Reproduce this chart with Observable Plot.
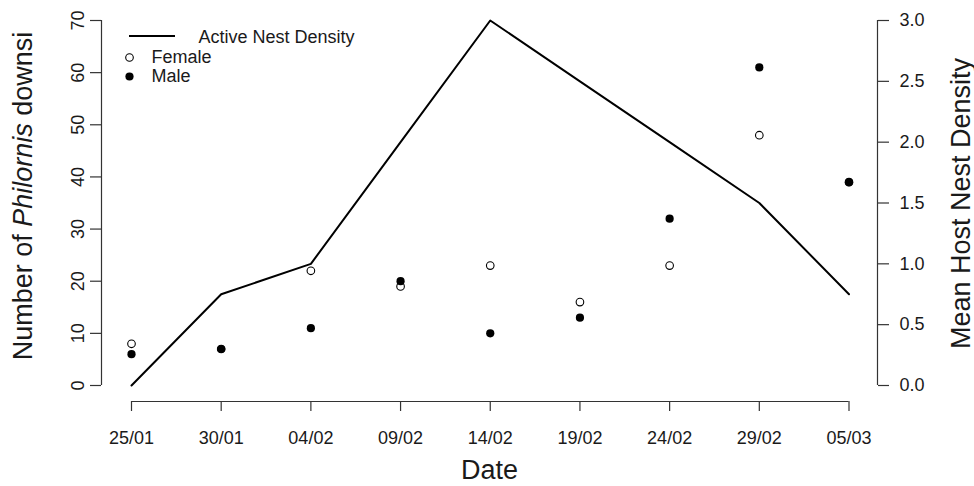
<!DOCTYPE html>
<html><head><meta charset="utf-8">
<script src="https://cdn.jsdelivr.net/npm/d3@7"></script>
<script src="https://cdn.jsdelivr.net/npm/@observablehq/plot@0.6"></script>
<style>
body{margin:0;background:#fff;}
svg{font-family:"Liberation Sans",Arial,sans-serif;}
</style>
</head><body><div id="chart"></div>
<script>
const dates = ["25/01","30/01","04/02","09/02","14/02","19/02","24/02","29/02","05/03"];
const days = [0,5,10,15,20,25,30,35,40];
const female = [8,7,22,19,23,16,23,48,39];
const male = [6,7,11,20,10,13,32,61,39];
const nestDensity = [0,0.75,1.0,2.0,3.0,2.5,2.0,1.5,0.75];
const leftTicks = [0,10,20,30,40,50,60,70];
const rightTicks = [0,0.5,1.0,1.5,2.0,2.5,3.0];
const k = 70/3; // right axis (0..3) mapped onto left axis (0..70)

const femaleData = days.map((d,i)=>({day:d, v:female[i]}));
const maleData = days.map((d,i)=>({day:d, v:male[i]}));
const lineData = days.map((d,i)=>({day:d, v:nestDensity[i]*k}));

const axisColor = "#333";
const textColor = "#1a1a1a";

function leftTitle(index, scales, values, dims) {
  const cy = (dims.marginTop + dims.height - dims.marginBottom)/2 - 7;
  const t = d3.create("svg:text")
    .attr("transform", `translate(${dims.marginLeft - 69},${cy}) rotate(-90)`)
    .attr("text-anchor","middle").attr("font-size",27).attr("fill",textColor);
  t.append("tspan").text("Number of ");
  t.append("tspan").attr("font-style","italic").text("Philornis");
  t.append("tspan").text(" downsi");
  return t.node();
}
function legendLine(index, scales, values, dims) {
  return d3.create("svg:line")
    .attr("x1", dims.marginLeft + 28).attr("x2", dims.marginLeft + 74)
    .attr("y1", dims.marginTop + 31).attr("y2", dims.marginTop + 31)
    .attr("stroke","black").attr("stroke-width",2).node();
}

const chart = Plot.plot({
  width: 974, height: 486,
  marginLeft: 101, marginRight: 97, marginTop: 5, marginBottom: 85,
  style: {background:"#fff", color:textColor, fontFamily:'"Liberation Sans",Arial,sans-serif'},
  x: {domain:[0,40], range:[131,848.5]},
  y: {domain:[0,70], range:[385,20]},
  marks: [
    // axis lines
    Plot.ruleX([days[0]], {y1:0, y2:70, dx:-30, stroke:axisColor, strokeWidth:1.2}),
    Plot.ruleX([days[8]], {y1:0, y2:70, dx:28.5, stroke:axisColor, strokeWidth:1.2}),
    Plot.ruleY([0], {x1:days[0], x2:days[8], dy:16, stroke:axisColor, strokeWidth:1.2}),
    // ticks
    Plot.axisY({anchor:"left", ticks:leftTicks, tickSize:11, tickFormat:()=>"", label:null, stroke:axisColor, strokeWidth:1.2}),
    Plot.axisY({anchor:"right", ticks:rightTicks.map(d=>d*k), tickSize:11, tickFormat:()=>"", label:null, stroke:axisColor, strokeWidth:1.2}),
    Plot.axisX({anchor:"bottom", ticks:days, tickSize:10, tickFormat:()=>"", label:null, stroke:axisColor, strokeWidth:1.2}),
    // tick labels
    Plot.text(leftTicks, {y:d=>d, text:d=>String(d), frameAnchor:"left", dx:-18, rotate:-90, textAnchor:"middle", lineAnchor:"bottom", fontSize:18, fill:textColor}),
    Plot.text(rightTicks, {y:d=>d*k, text:d=>d.toFixed(1), frameAnchor:"right", dx:22, textAnchor:"start", lineAnchor:"middle", fontSize:18, fill:textColor}),
    Plot.text(days, {x:d=>d, text:(d,i)=>dates[i], frameAnchor:"bottom", dy:30, lineAnchor:"top", fontSize:18, fill:textColor}),
    // axis titles
    leftTitle,
    Plot.text(["Mean Host Nest Density"], {frameAnchor:"right", dx:92, rotate:-90, textAnchor:"middle", lineAnchor:"bottom", fontSize:27, fill:textColor}),
    Plot.text(["Date"], {frameAnchor:"bottom", dy:77, lineAnchor:"bottom", fontSize:27, fill:textColor}),
    // data
    Plot.line(lineData, {x:"day", y:"v", stroke:"black", strokeWidth:2}),
    Plot.dot(femaleData, {x:"day", y:"v", r:3.8, stroke:"black", strokeWidth:1.1, fill:"none"}),
    Plot.dot(maleData, {x:"day", y:"v", r:4.1, fill:"black", stroke:"none"}),
    // legend
    legendLine,
    Plot.text(["Active Nest Density"], {frameAnchor:"top-left", dx:97, dy:32, textAnchor:"start", lineAnchor:"middle", fontSize:18, fill:textColor}),
    Plot.dot([0], {frameAnchor:"top-left", dx:28, dy:52, r:3.8, stroke:"black", strokeWidth:1.1, fill:"none"}),
    Plot.text(["Female"], {frameAnchor:"top-left", dx:50, dy:52, textAnchor:"start", lineAnchor:"middle", fontSize:18, fill:textColor}),
    Plot.dot([0], {frameAnchor:"top-left", dx:28, dy:71, r:4.1, fill:"black"}),
    Plot.text(["Male"], {frameAnchor:"top-left", dx:50, dy:71, textAnchor:"start", lineAnchor:"middle", fontSize:18, fill:textColor})
  ]
});
document.getElementById("chart").appendChild(chart);
</script>
</body></html>
